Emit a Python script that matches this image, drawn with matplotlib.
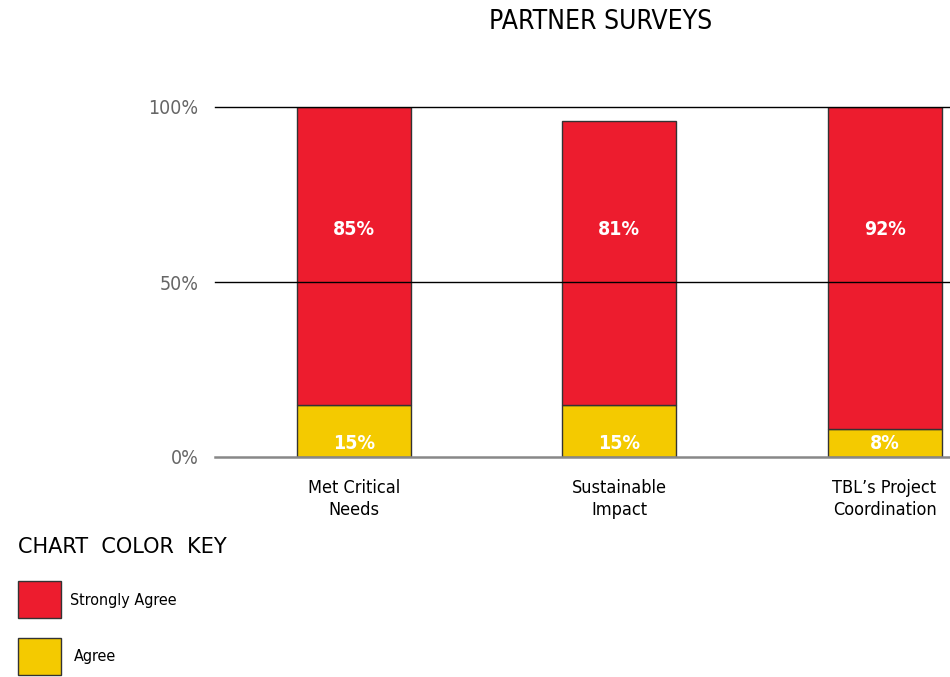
import numpy as np
import matplotlib.pyplot as plt
from matplotlib.patches import Rectangle

# the original uses a condensed gothic face
plt.rcParams['font.family'] = ['DejaVu Sans']
plt.rcParams['font.stretch'] = 'condensed'

categories = ["Met Critical\nNeeds", "Sustainable\nImpact", "TBL\u2019s Project\nCoordination"]
agree = [15, 15, 8]
strongly_agree = [85, 81, 92]
yticks = [0, 50, 100]
ytick_labels = ["0%", "50%", "100%"]

red = "#ED1C2E"
yellow = "#F4CA00"

fig = plt.figure(figsize=(9.5, 6.77), dpi=100)
ax = fig.add_axes([215 / 950, 220 / 677, 735 / 950, 350 / 677])

x = np.arange(len(categories))
w = 0.43
ax.bar(x, agree, w, color=yellow, edgecolor="#333333", linewidth=1, zorder=2)
ax.bar(x, strongly_agree, w, bottom=agree, color=red, edgecolor="#333333",
       linewidth=1, zorder=2)

# gridlines sit on top of the bars
for yv in yticks[1:]:
    ax.axhline(yv, color="black", linewidth=1, zorder=3, clip_on=False)
ax.axhline(0, color="#888888", linewidth=1.8, zorder=3, clip_on=False)

for xi, a, s in zip(x, agree, strongly_agree):
    ax.text(xi, 65, f"{s}%", color="white", fontsize=14, fontweight="bold",
            ha="center", va="center", zorder=4)
    ax.text(xi, 3.8, f"{a}%", color="white", fontsize=14, fontweight="bold",
            ha="center", va="center", zorder=4)

ax.set_xlim(-0.525, 2.247)
ax.set_ylim(0, 100)
ax.set_yticks(yticks)
ax.set_yticklabels(ytick_labels, fontsize=14, color="#666666")
ax.set_xticks(x)
ax.set_xticklabels(categories, fontsize=13, color="black", linespacing=1.25)
ax.tick_params(axis="y", length=0, pad=12)
ax.tick_params(axis="x", length=0, pad=16)
for sp in ax.spines.values():
    sp.set_visible(False)

fig.text(601 / 950, 1 - 22 / 677, "PARTNER SURVEYS", fontsize=19,
         ha="center", va="center", color="black")

# colour key
fig.text(18 / 950, 1 - 547 / 677, "CHART  COLOR  KEY", fontsize=15,
         fontstretch="normal", ha="left", va="center", color="black")
key = [("Strongly Agree", red, 581, 70), ("Agree", yellow, 638, 74)]
for label, col, top, tx in key:
    fig.patches.append(Rectangle((18 / 950, 1 - (top + 37) / 677), 43 / 950, 37 / 677,
                                 transform=fig.transFigure, facecolor=col,
                                 edgecolor="#333333", linewidth=1))
    fig.text(tx / 950, 1 - (top + 19) / 677, label, fontsize=11.5,
             ha="left", va="center", color="black")

fig.savefig("out.png", dpi=100)
